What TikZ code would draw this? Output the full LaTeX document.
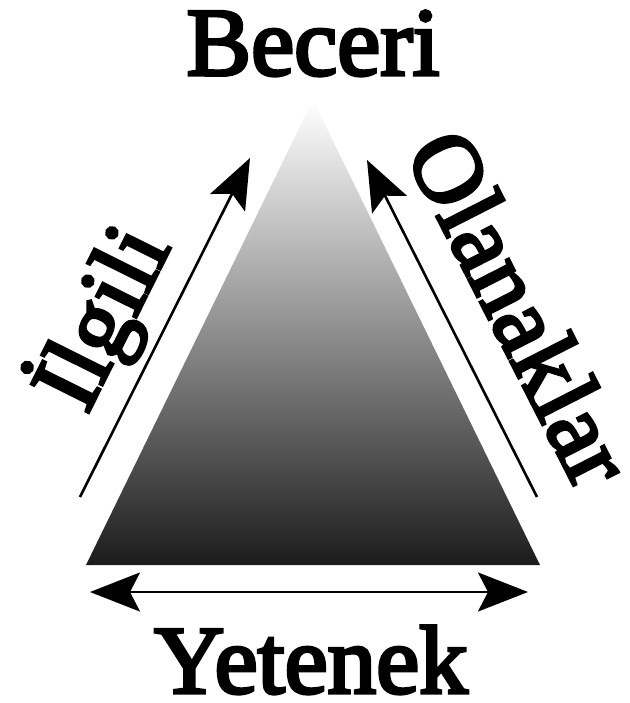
\documentclass[tikz,border=0pt]{standalone}
\usepackage{fontspec}
\setmainfont{Liberation Serif}[BoldFont=Liberation Serif, BoldFeatures={FakeBold=3.5}]
\usetikzlibrary{arrows.meta}
\definecolor{basegray}{RGB}{28,28,28}
\begin{document}
\begin{tikzpicture}[x=1pt,y=-1pt,
  lbl/.style={font=\fontsize{97}{97}\selectfont\bfseries, inner sep=0pt, anchor=base},
  sidearrow/.style={line width=2.6pt, -{Stealth[length=50pt,width=39pt,inset=10pt]}},
  basearrow/.style={line width=2.8pt, {Stealth[length=50pt,width=39pt,inset=10pt]}-{Stealth[length=50pt,width=39pt,inset=10pt]}}
]
\useasboundingbox (0,0) rectangle (629,703);
\coordinate (apex) at (313,100);
\coordinate (bl) at (86,565);
\coordinate (br) at (540,565);
\shade[top color=white, bottom color=basegray] (apex) -- (br) -- (bl) -- cycle;

\node[lbl] (beceri) at (313,75) {Beceri};
\node[lbl] (yetenek) at (311,693) {Yetenek};
\node[lbl, rotate=63.5] (ilgili) at (129,331) {İlgili};
\node[lbl, rotate=-63] (olanak) at (491,323) {Olanaklar};

\coordinate (l1) at (80,497); \coordinate (l2) at (250,158);
\draw[sidearrow] (l1) -- (l2);
\coordinate (r1) at (537,497); \coordinate (r2) at (367,160);
\draw[sidearrow] (r1) -- (r2);
\coordinate (h1) at (90,592); \coordinate (h2) at (528,592);
\draw[basearrow] (h1) -- (h2);
\end{tikzpicture}
\end{document}
